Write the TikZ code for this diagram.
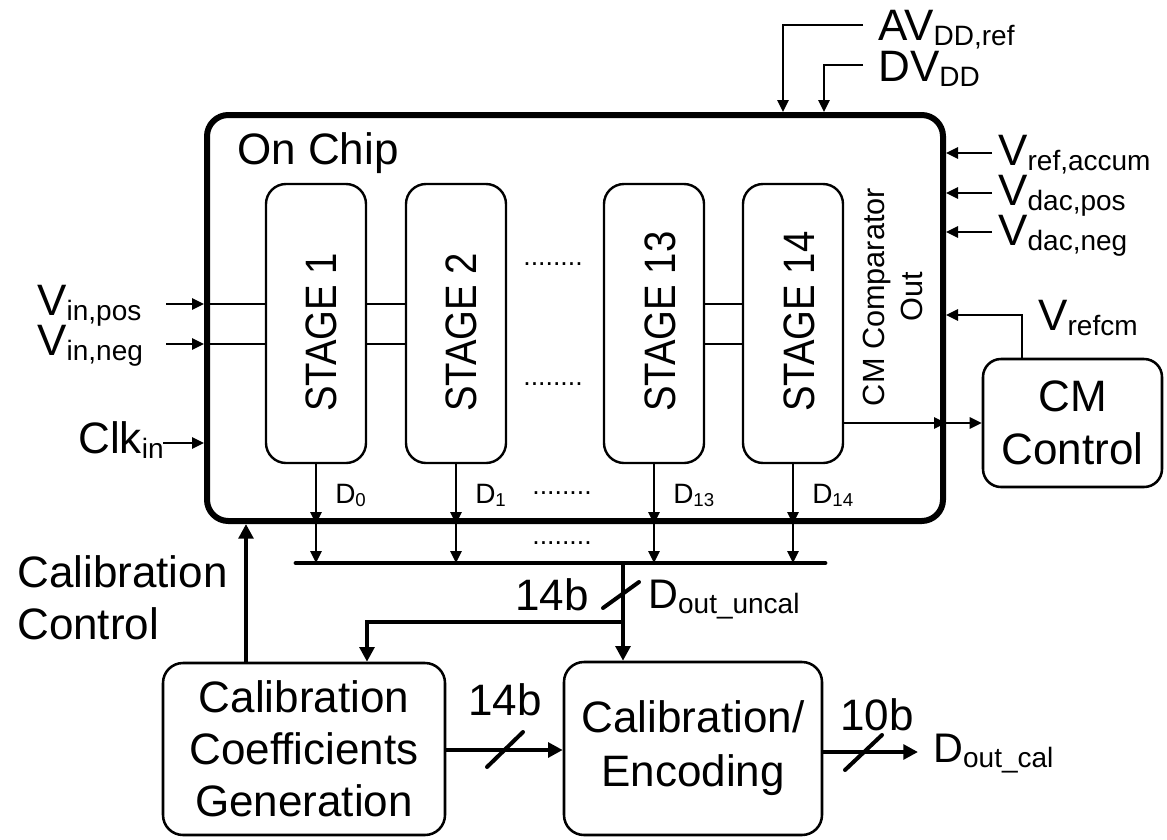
\documentclass[tikz,border=0pt]{standalone}
\usepackage{fontspec}
\setmainfont{Liberation Sans}
\usetikzlibrary{arrows.meta,calc}
\newcommand{\sbs}[1]{\raisebox{-4pt}{\fontsize{21}{21}\selectfont #1}}
\newcommand{\dsbs}[1]{\raisebox{-2.5pt}{\fontsize{14}{14}\selectfont #1}}
\tikzset{
  big/.style={font=\fontsize{33}{39}\selectfont},
  lbl/.style={big, anchor=base west, inner sep=0},
  olbl/.style={font=\fontsize{31}{36}\selectfont, anchor=base west, inner sep=0},
  dlbl/.style={font=\fontsize{21}{21}\selectfont, anchor=base west, inner sep=0},
  dots/.style={font=\fontsize{20}{20}\selectfont, anchor=base, inner sep=0},
  thinline/.style={line width=1.5pt},
  arr/.style={line width=1.5pt, -{Triangle[length=9pt,width=8.5pt]}},
  tline/.style={line width=3pt},
  tarr/.style={line width=3pt, -{Triangle[length=11pt,width=11pt]}},
  slash/.style={line width=3pt, line cap=round},
  busline/.style={line width=3.6pt, line cap=round},
  chipbox/.style={draw, line width=4.5pt, rounded corners=16pt, minimum width=552pt, minimum height=304.5pt, inner sep=0},
  stagebox/.style={draw, line width=1.8pt, rounded corners=15pt, minimum width=75pt, minimum height=209.25pt, inner sep=0},
  stagetxt/.style={big, rotate=90, anchor=base west, inner sep=0},
  calbox/.style={draw, line width=1.9pt, rounded corners=15pt, inner sep=0, align=center, big},
}
\begin{document}
\begin{tikzpicture}[x=0.75pt,y=-0.75pt]
\useasboundingbox (0,0) rectangle (1167,839);

% chip
\node[chipbox] (chip) at (575,318) {};
\node[lbl] (onchip) at (237,164) {On Chip};

% stages
\node[stagebox] (s1) at (316,323.5) {};
\node[stagebox] (s2) at (456,323.5) {};
\node[stagebox] (s13) at (654,323.5) {};
\node[stagebox] (s14) at (793,323.5) {};
\node[stagetxt] (t1) at (336,412) {\scalebox{0.87}[1]{STAGE 1}};
\node[stagetxt] (t2) at (476,412) {\scalebox{0.87}[1]{STAGE 2}};
\node[stagetxt] (t13) at (675,412) {\scalebox{0.87}[1]{STAGE 13}};
\node[stagetxt] (t14) at (814,412) {\scalebox{0.87}[1]{STAGE 14}};

\foreach \yy in {304,344} {
  \draw[thinline] (s1.east |- 0,\yy) -- (s2.west |- 0,\yy);
  \draw[thinline] (s13.east |- 0,\yy) -- (s14.west |- 0,\yy);
}
\node[dots] (dotsA) at (553,265) {........};
\node[dots] (dotsB) at (553,385) {........};

% comparator text
\node[rotate=90, font=\fontsize{23}{29}\selectfont, align=center, inner sep=0] (cmco) at (893,297) {CM Comparator\\Out};

% top supplies
\node[lbl] (avdd) at (878,40) {AV\sbs{DD,ref}};
\coordinate (avddend) at (863,25);
\draw[arr] (avddend) -| (chip.north -| 783,0);
\node[lbl] (dvdd) at (878,81) {DV\sbs{DD}};
\coordinate (dvddend) at (863,65);
\draw[arr] (dvddend) -| (chip.north -| 824,0);

% right references
\node[lbl] (vra) at (998,165) {V\sbs{ref,accum}};
\node[lbl] (vdp) at (998,205) {V\sbs{dac,pos}};
\node[lbl] (vdn) at (998,245) {V\sbs{dac,neg}};
\coordinate (vraend) at (992,153);
\coordinate (vdpend) at (992,193);
\coordinate (vdnend) at (992,232);
\draw[arr] (vraend) -- (vraend -| chip.east);
\draw[arr] (vdpend) -- (vdpend -| chip.east);
\draw[arr] (vdnend) -- (vdnend -| chip.east);

% left inputs
\node[lbl] (vinp) at (37,315) {V\sbs{in,pos}};
\node[lbl] (vinn) at (37,355) {V\sbs{in,neg}};
\node[lbl] (clk) at (78,453) {Clk\sbs{in}};
\coordinate (vipend) at (166,304);
\coordinate (vinend) at (166,344);
\coordinate (clkend) at (163,443);
\draw[arr] (vipend) -- (vipend -| chip.west);
\draw[thinline] (vipend -| chip.west) -- (vipend -| s1.west);
\draw[arr] (vinend) -- (vinend -| chip.west);
\draw[thinline] (vinend -| chip.west) -- (vinend -| s1.west);
\draw[arr] (clkend) -- (clkend -| chip.west);

% digital outputs and bus
\coordinate (busL) at (296,563);
\coordinate (busR) at (825,563);
\draw[busline] (busL) -- (busR);
\foreach \s in {s1,s2,s13,s14} {
  \draw[arr] (\s.south) -- (\s.south |- chip.south);
  \draw[arr] (\s.south |- chip.south) -- (\s.south |- busL);
}
\node[dlbl] (d0) at (335,503) {D\dsbs{0}};
\node[dlbl] (d1) at (475,503) {D\dsbs{1}};
\node[dlbl] (d13) at (673,503) {D\dsbs{13}};
\node[dlbl] (d14) at (812,503) {D\dsbs{14}};
\node[dots] (dotsC) at (562,494) {........};
\node[dots] (dotsD) at (562,544) {........};

% CM control
\node[calbox, rounded corners=13.5pt, minimum width=134.25pt, minimum height=96pt, font=\fontsize{33}{40}\selectfont] (cm) at (1072.5,423) {CM\\Control};
\draw[arr] (s14.east |- 0,423) -- (chip.east |- 0,423);
\draw[arr] (chip.east |- 0,423) -- (cm.west);
\draw[arr] (cm.north -| 1022,0) |- (chip.east |- 0,315);
\node[lbl] (vrefcm) at (1038,330) {V\sbs{refcm}};

% calibration blocks
\node[calbox, minimum width=211.5pt, minimum height=129pt] (calcoef) at (304,749) {Calibration\\Coefficients\\Generation};
\node[calbox, minimum width=193.5pt, minimum height=129.75pt, font=\fontsize{33}{40.5}\selectfont] (calenc) at (693,748.5) {Calibration/\\Encoding};

\coordinate (tap) at (623,563);
\coordinate (branch) at (623,622);
\draw[tarr] (tap) -- (tap |- calenc.north);
\draw[tarr] (branch) -| (calcoef.north -| 367,0);
\draw[slash] (603,608) -- (639,582);
\node[big, anchor=center, inner sep=0] (b14a) at (552,595) {14b};
\node[olbl] (doutu) at (648,608) {D\sbs{out\_uncal}};

\draw[tarr] (calcoef.north -| 246,0) -- (chip.south -| 246,0);
\node[big, anchor=west, align=left, inner sep=0] (calctl) at (17,598) {Calibration\\Control};

\draw[tarr] (calcoef.east |- 0,750) -- (calenc.west |- 0,750);
\draw[slash] (487,767) -- (523,732);
\node[big, anchor=center, inner sep=0] (b14b) at (505,700) {14b};

\coordinate (doutend) at (918,752);
\draw[tarr] (calenc.east |- doutend) -- (doutend);
\draw[slash] (845,770) -- (882,735);
\node[big, anchor=center, inner sep=0] (b10) at (877,715) {10b};
\node[olbl] (doutc) at (933,762) {D\sbs{out\_cal}};
\end{tikzpicture}
\end{document}
